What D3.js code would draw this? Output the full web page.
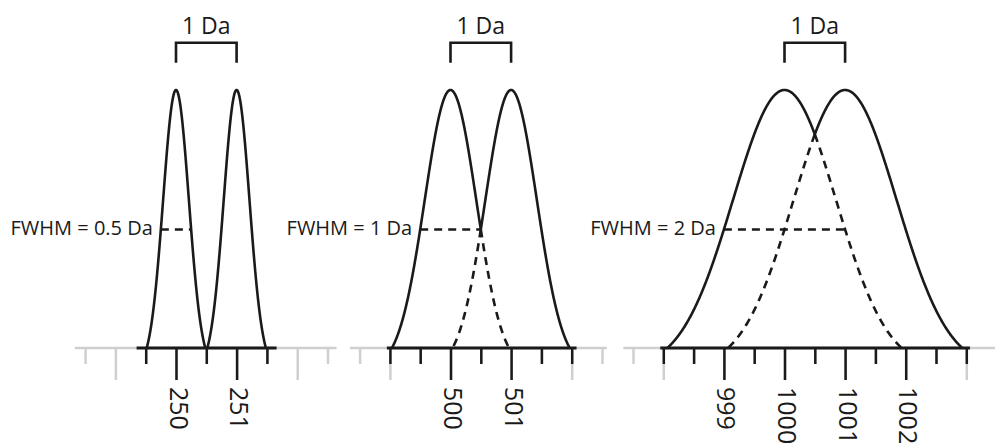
<!DOCTYPE html>
<html>
<head>
<meta charset="utf-8">
<script src="https://cdn.jsdelivr.net/npm/d3@7"></script>
<style>
  html, body { margin: 0; padding: 0; background: #ffffff; }
  svg { display: block; }
  text { font-family: "Open Sans", "Noto Sans", sans-serif; fill: #1a1a1a; }
</style>
</head>
<body>
<svg id="chart" width="995" height="443"></svg>
<script>
// ---- data -------------------------------------------------------------
// peak centres (m/z) in each panel
const peakCenters = [[250, 251], [500, 501], [1000, 1001]];
// full width at half maximum of each panel's peaks (Da)
const peakFwhm = [0.5, 1, 2];
const fwhmLabels = ["FWHM = 0.5 Da", "FWHM = 1 Da", "FWHM = 2 Da"];
const spacingLabel = "1 Da";
// labelled m/z ticks
const tickLabels = [["250", "251"], ["500", "501"], ["999", "1000", "1001", "1002"]];
// faint axis extent and dark axis extent (m/z)
const faintAxisExtent = [[248.33, 252.65], [498.34, 502.58], [997.34, 1003.5]];
const darkAxisExtent = [[249.35, 251.66], [498.95, 502.08], [997.95, 1003.06]];
// dark tick span (m/z, every 0.5 Da)
const darkTickSpan = [[249.5, 251.5], [499, 502], [998, 1003]];
// relative intensity at which the axis cuts off the peak tails
const axisIntensity = 0.075;

// ---- layout -----------------------------------------------------------
const W = 995, H = 443;
const baseY = 348, topY = 90;
const pxPerDa = 60.6;
const firstPeakPx = [176, 450.5, 784.5];
const shortTick = 16, longTick = 32;
const ink = "#1a1a1a", faint = "#cfcfcf";
const strokeW = 2.6;

const svg = d3.select("#chart");
svg.append("rect").attr("width", W).attr("height", H).attr("fill", "#fff");

const y = d3.scaleLinear().domain([axisIntensity, 1]).range([baseY, topY]);

const gauss = (c, fwhm) => m => Math.exp(-4 * Math.LN2 * ((m - c) / fwhm) ** 2);

peakCenters.forEach((centers, i) => {
  const [c1, c2] = centers;
  const fwhm = peakFwhm[i];
  const x = d3.scaleLinear()
    .domain([c1, c1 + 1])
    .range([firstPeakPx[i], firstPeakPx[i] + pxPerDa]);
  const g = svg.append("g");

  // ---- axis ----
  const halfSteps = (a, b) => d3.range(Math.round(a * 2), Math.floor(b * 2 + 1e-6) + 1).map(k => k / 2);
  const fa = faintAxisExtent[i];
  const faintTicks = halfSteps(Math.ceil(fa[0] * 2) / 2, fa[1]);

  g.append("line")
    .attr("x1", x(fa[0])).attr("x2", x(fa[1]))
    .attr("y1", baseY).attr("y2", baseY)
    .attr("stroke", faint).attr("stroke-width", 2.6);

  const styleAxis = (sel, color) => {
    sel.select(".domain").remove();
    sel.selectAll(".tick line").attr("stroke", color).attr("stroke-width", 2.5);
  };

  g.append("g").attr("transform", `translate(0,${baseY})`)
    .call(d3.axisBottom(x).tickValues(faintTicks.filter(v => v % 1 === 0))
      .tickSize(longTick).tickFormat(""))
    .call(s => styleAxis(s, faint));
  g.append("g").attr("transform", `translate(0,${baseY})`)
    .call(d3.axisBottom(x).tickValues(faintTicks.filter(v => v % 1 !== 0))
      .tickSize(shortTick).tickFormat(""))
    .call(s => styleAxis(s, faint));

  const da = darkAxisExtent[i];
  g.append("line")
    .attr("x1", x(da[0])).attr("x2", x(da[1]))
    .attr("y1", baseY).attr("y2", baseY)
    .attr("stroke", ink).attr("stroke-width", 2.8);

  const labelled = tickLabels[i].map(Number);
  const darkTicks = halfSteps(darkTickSpan[i][0], darkTickSpan[i][1]);
  g.append("g").attr("transform", `translate(0,${baseY})`)
    .call(d3.axisBottom(x).tickValues(darkTicks.filter(v => !labelled.includes(v)))
      .tickSize(shortTick).tickFormat(""))
    .call(s => styleAxis(s, ink));
  const lab = g.append("g").attr("transform", `translate(0,${baseY})`)
    .call(d3.axisBottom(x).tickValues(labelled)
      .tickSize(longTick).tickFormat((d, k) => tickLabels[i][k]))
    .call(s => styleAxis(s, ink));
  lab.selectAll(".tick text")
    .attr("y", 0).attr("dy", 0)
    .attr("transform", "translate(-7,39) rotate(90)")
    .attr("text-anchor", "start")
    .attr("font-family", "\"Open Sans\", sans-serif")
    .attr("font-size", 25)
    .attr("fill", ink);

  // ---- peaks ----
  const f1 = gauss(c1, fwhm), f2 = gauss(c2, fwhm);
  const reach = fwhm / 2 * Math.sqrt(Math.log(1 / axisIntensity) / Math.LN2);
  const feet = [c1 - reach, c1 + reach, c2 - reach, c2 + reach];
  const mid = (c1 + c2) / 2;
  const step = fwhm / 400;
  const ms = d3.sort(d3.range(c1 - reach, c2 + reach, step).concat(feet, [mid]));
  const envelope = ms.map(m => ({ m, v: Math.max(f1(m), f2(m)) }));

  const line = d3.line()
    .defined(d => d.v >= axisIntensity - 1e-9)
    .x(d => x(d.m)).y(d => y(Math.max(d.v, axisIntensity)));

  g.append("path").datum(envelope).attr("d", line)
    .attr("fill", "none").attr("stroke", ink).attr("stroke-width", strokeW)
    .attr("stroke-linejoin", "round");

  // hidden inner tails of the overlapping peaks
  if (f1(mid) > axisIntensity) {
    const tail1 = ms.filter(m => m >= mid && m <= c1 + reach).map(m => ({ m, v: f1(m) }));
    const tail2 = ms.filter(m => m <= mid && m >= c2 - reach).reverse().map(m => ({ m, v: f2(m) }));
    [tail1, tail2].forEach(t => {
      g.append("path").datum(t).attr("d", line)
        .attr("fill", "none").attr("stroke", ink).attr("stroke-width", strokeW)
        .attr("stroke-dasharray", "8,6");
    });
  }

  // ---- FWHM marker ----
  const hy = y(0.5);
  g.append("line")
    .attr("x1", x(c1 - fwhm / 2)).attr("x2", x(c1 + fwhm / 2))
    .attr("y1", hy).attr("y2", hy)
    .attr("stroke", ink).attr("stroke-width", strokeW)
    .attr("stroke-dasharray", "8,6");
  g.append("text")
    .attr("x", x(c1 - fwhm / 2) - 8).attr("y", hy + 6)
    .attr("text-anchor", "end")
    .attr("font-size", 20)
    .text(fwhmLabels[i]);

  // ---- 1 Da spacing bracket ----
  g.append("path")
    .attr("d", `M${x(c1)},62.7V42.7H${x(c2)}V62.7`)
    .attr("fill", "none").attr("stroke", ink).attr("stroke-width", strokeW)
    .attr("stroke-linejoin", "miter");
  g.append("text")
    .attr("x", x(mid)).attr("y", 34)
    .attr("text-anchor", "middle")
    .attr("font-size", 23)
    .text(spacingLabel);
});
</script>
</body>
</html>
